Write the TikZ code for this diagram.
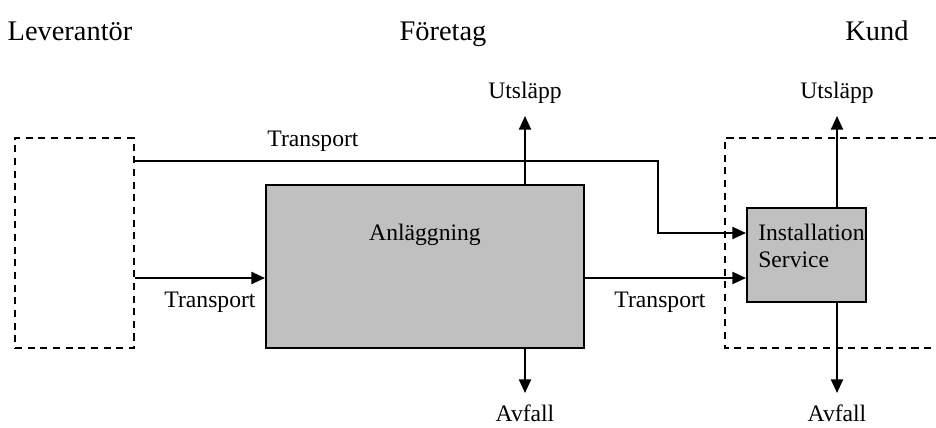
\documentclass[tikz,border=0pt]{standalone}
\usepackage{fontspec}
\setmainfont{Liberation Serif}
\usetikzlibrary{arrows.meta}
\definecolor{boxgray}{HTML}{C0C0C0}
\tikzset{
  flow/.style={line width=1.4pt,-{Triangle[length=0.34cm,width=0.3cm]}},
  actor/.style={draw,line width=1.1pt,dash pattern=on 5pt off 4pt},
  unit/.style={draw,line width=1.4pt,fill=boxgray,inner sep=0pt},
  txt/.style={inner sep=0pt,font=\fontsize{16.8}{19}\selectfont},
  head/.style={inner sep=0pt,anchor=base,font=\fontsize{20.2}{23}\selectfont}
}
\begin{document}
\begin{tikzpicture}[x=0.025cm,y=-0.025cm]
\useasboundingbox (0,0) rectangle (936,428);
%rubriker
\node[head] (lev) at (70,40) {Leverantör};
\node[head] (for) at (443,40) {Företag};
\node[head] (kun) at (877,40) {Kund};
%aktörer
\node[actor,minimum width=2.975cm,minimum height=5.25cm] (levbox) at (74.5,243) {};
\draw[actor] (936,138) -- (725,138) -- (725,348) -- (936,348);
%enheter
\node[unit,minimum width=7.95cm,minimum height=4.075cm] (anl) at (425,266.5) {};
\node[txt] (anltxt) at (425,235) {Anläggning};
\node[unit,minimum width=2.975cm,minimum height=2.35cm] (inst) at (806.5,255) {};
\node[txt,anchor=west,align=left] (insttxt) at (758,246) {Installation\\Service};
%transporter
\draw[flow] (levbox.east |- 0,161) -| (658,233) -- (inst.west |- 0,233);
\draw[flow] (levbox.east |- 0,278) -- (anl.west |- 0,278);
\draw[flow] (anl.east |- 0,278) -- (inst.west |- 0,278);
\node[txt] (tr1) at (313,141) {Transport};
\node[txt] (tr2) at (210,302) {Transport};
\node[txt] (tr3) at (660,302) {Transport};
%utsläpp och avfall
\coordinate (u1) at (525,116);
\coordinate (a1) at (525,393);
\coordinate (u2) at (837,116);
\coordinate (a2) at (837,393);
\draw[flow] (anl.north -| u1) -- (u1);
\draw[flow] (anl.south -| a1) -- (a1);
\draw[flow] (inst.north -| u2) -- (u2);
\draw[flow] (inst.south -| a2) -- (a2);
\node[txt] (ut1) at (525,93) {Utsläpp};
\node[txt,anchor=base] (av1) at (525,421) {Avfall};
\node[txt] (ut2) at (837,93) {Utsläpp};
\node[txt,anchor=base] (av2) at (837,421) {Avfall};
\end{tikzpicture}
\end{document}
